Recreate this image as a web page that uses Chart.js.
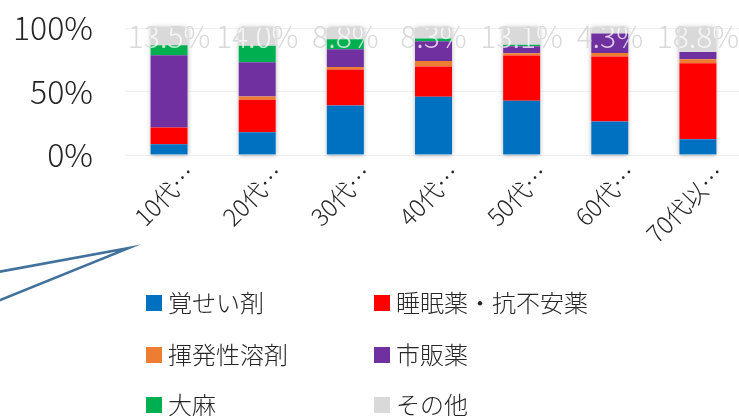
<!DOCTYPE html>
<html lang="ja">
<head>
<meta charset="utf-8">
<title>年代別 薬物の割合</title>
<script src="https://cdn.jsdelivr.net/npm/chart.js@4.4.1/dist/chart.umd.min.js"></script>
<style>
  html, body { margin: 0; padding: 0; background: #fff; overflow: hidden; }
  #wrap { position: relative; width: 742px; height: 416px; }
</style>
</head>
<body>
<div id="wrap"><canvas id="chart"></canvas></div>
<script>
// カテゴリ（Excelで切り詰められた表示のまま）
const categories = ['10代…', '20代…', '30代…', '40代…', '50代…', '60代…', '70代以…'];

// 各系列（%）
const stimulants = [8.5, 17.9, 39.0, 45.8, 42.7, 26.3, 12.4];   // 覚せい剤
const sleepPills = [13.1, 25.6, 28.4, 23.8, 35.6, 51.2, 59.8];  // 睡眠薬・抗不安薬
const solvents   = [0, 2.6, 1.9, 4.4, 1.8, 2.9, 3.1];           // 揮発性溶剤
const otcDrugs   = [56.9, 26.9, 13.9, 15.6, 5.5, 15.3, 5.9];    // 市販薬
const cannabis   = [8.0, 13.0, 8.0, 2.1, 1.3, 0, 0];            // 大麻
const others     = [13.5, 14.0, 8.8, 8.3, 13.1, 4.3, 18.8];     // その他

const yTicks = [0, 50, 100];

const FONT = '"Noto Sans CJK JP", "Noto Sans", sans-serif';

// バーの外側だけに影をつける
const barShadow = {
    id: 'barShadow',
    beforeDatasetsDraw(chart) {
        const ctx = chart.ctx;
        const y = chart.scales.y;
        const meta = chart.getDatasetMeta(0);
        ctx.save();
        ctx.shadowColor = 'rgba(0,0,0,0.35)';
        ctx.shadowBlur = 5;
        ctx.fillStyle = '#fff';
        meta.data.forEach((bar) => {
            const top = y.getPixelForValue(100);
            ctx.fillRect(bar.x - bar.width / 2, top, bar.width, y.getPixelForValue(0) - top);
        });
        ctx.restore();
    }
};

// 「その他」の値ラベル（薄いグレー、バーの上では白っぽく）
const otherLabels = {
    id: 'otherLabels',
    drawText(chart) {
        const ctx = chart.ctx;
        const y = chart.scales.y;
        const meta = chart.getDatasetMeta(0);
        meta.data.forEach((bar, i) => {
            ctx.fillText(others[i].toFixed(1) + '%', bar.x, y.getPixelForValue(100) + 9);
        });
    },
    setFont(ctx) {
        ctx.font = '300 30px ' + FONT;
        ctx.textAlign = 'center';
        ctx.textBaseline = 'middle';
    },
    beforeDatasetsDraw(chart) {
        const ctx = chart.ctx;
        ctx.save();
        this.setFont(ctx);
        ctx.fillStyle = '#d9d9d9';
        this.drawText(chart);
        ctx.restore();
    },
    afterDatasetsDraw(chart) {
        const ctx = chart.ctx;
        const y = chart.scales.y;
        const meta = chart.getDatasetMeta(0);
        ctx.save();
        ctx.beginPath();
        meta.data.forEach((bar) => {
            const top = y.getPixelForValue(100);
            ctx.rect(bar.x - bar.width / 2, top, bar.width, y.getPixelForValue(0) - top);
        });
        ctx.clip();
        this.setFont(ctx);
        ctx.fillStyle = 'rgba(255,255,255,0.75)';
        this.drawText(chart);
        ctx.restore();
    }
};

// 2列の凡例と左下の引き出し線
const sideLegend = {
    id: 'sideLegend',
    afterDraw(chart) {
        const ctx = chart.ctx;
        const cols = [146, 374];
        const rows = [303, 355, 405];
        ctx.save();
        ctx.font = '300 24px ' + FONT;
        ctx.textBaseline = 'middle';
        ctx.textAlign = 'left';
        chart.data.datasets.forEach((ds, i) => {
            const x = cols[i % 2];
            const yy = rows[Math.floor(i / 2)];
            ctx.fillStyle = ds.backgroundColor;
            ctx.fillRect(x, yy - 8, 16, 16);
            ctx.fillStyle = '#262626';
            ctx.fillText(ds.label, x + 22, yy);
        });

        // 引き出し線（元図の残骸）
        ctx.strokeStyle = '#41719c';
        ctx.lineWidth = 2.5;
        ctx.beginPath();
        ctx.moveTo(-2, 272);
        ctx.lineTo(129, 248);
        ctx.lineTo(-2, 301);
        ctx.stroke();
        ctx.restore();
    }
};

const ctx = document.getElementById('chart').getContext('2d');

new Chart(ctx, {
    type: 'bar',
    data: {
        labels: categories,
        datasets: [
            { label: '覚せい剤', data: stimulants, backgroundColor: '#0070c0' },
            { label: '睡眠薬・抗不安薬', data: sleepPills, backgroundColor: '#ff0000' },
            { label: '揮発性溶剤', data: solvents, backgroundColor: '#ed7d31' },
            { label: '市販薬', data: otcDrugs, backgroundColor: '#7030a0' },
            { label: '大麻', data: cannabis, backgroundColor: '#00b050' },
            { label: 'その他', data: others, backgroundColor: '#d9d9d9' }
        ]
    },
    options: {
        responsive: true,
        maintainAspectRatio: false,
        animation: false,
        datasets: {
            bar: { barPercentage: 0.42, categoryPercentage: 1.0, borderWidth: 0 }
        },
        layout: { padding: { top: 28, left: 0, right: 0, bottom: 0 } },
        scales: {
            x: {
                stacked: true,
                grid: { display: false },
                border: { display: false },
                ticks: {
                    minRotation: 45,
                    maxRotation: 45,
                    labelOffset: 22,
                    padding: -4,
                    color: '#262626',
                    font: { family: FONT, size: 24, weight: 300 }
                },
                afterFit(scale) { scale.height = 261; }
            },
            y: {
                stacked: true,
                min: 0,
                max: 100,
                afterBuildTicks(scale) { scale.ticks = yTicks.map((v) => ({ value: v })); },
                grid: { color: '#f0f0f0', drawTicks: false, lineWidth: 1 },
                border: { display: false },
                ticks: {
                    padding: 32,
                    color: '#262626',
                    font: { family: FONT, size: 32, weight: 300 },
                    callback: (v) => v + '%'
                },
                afterFit(scale) {
                    scale.width = 125;
                    // ticks.padding を縦方向の余白に加算させない
                    scale.paddingTop = 0;
                    scale.paddingBottom = 0;
                }
            }
        },
        plugins: {
            legend: { display: false },
            tooltip: { enabled: false }
        }
    },
    plugins: [barShadow, otherLabels, sideLegend]
});
</script>
</body>
</html>
